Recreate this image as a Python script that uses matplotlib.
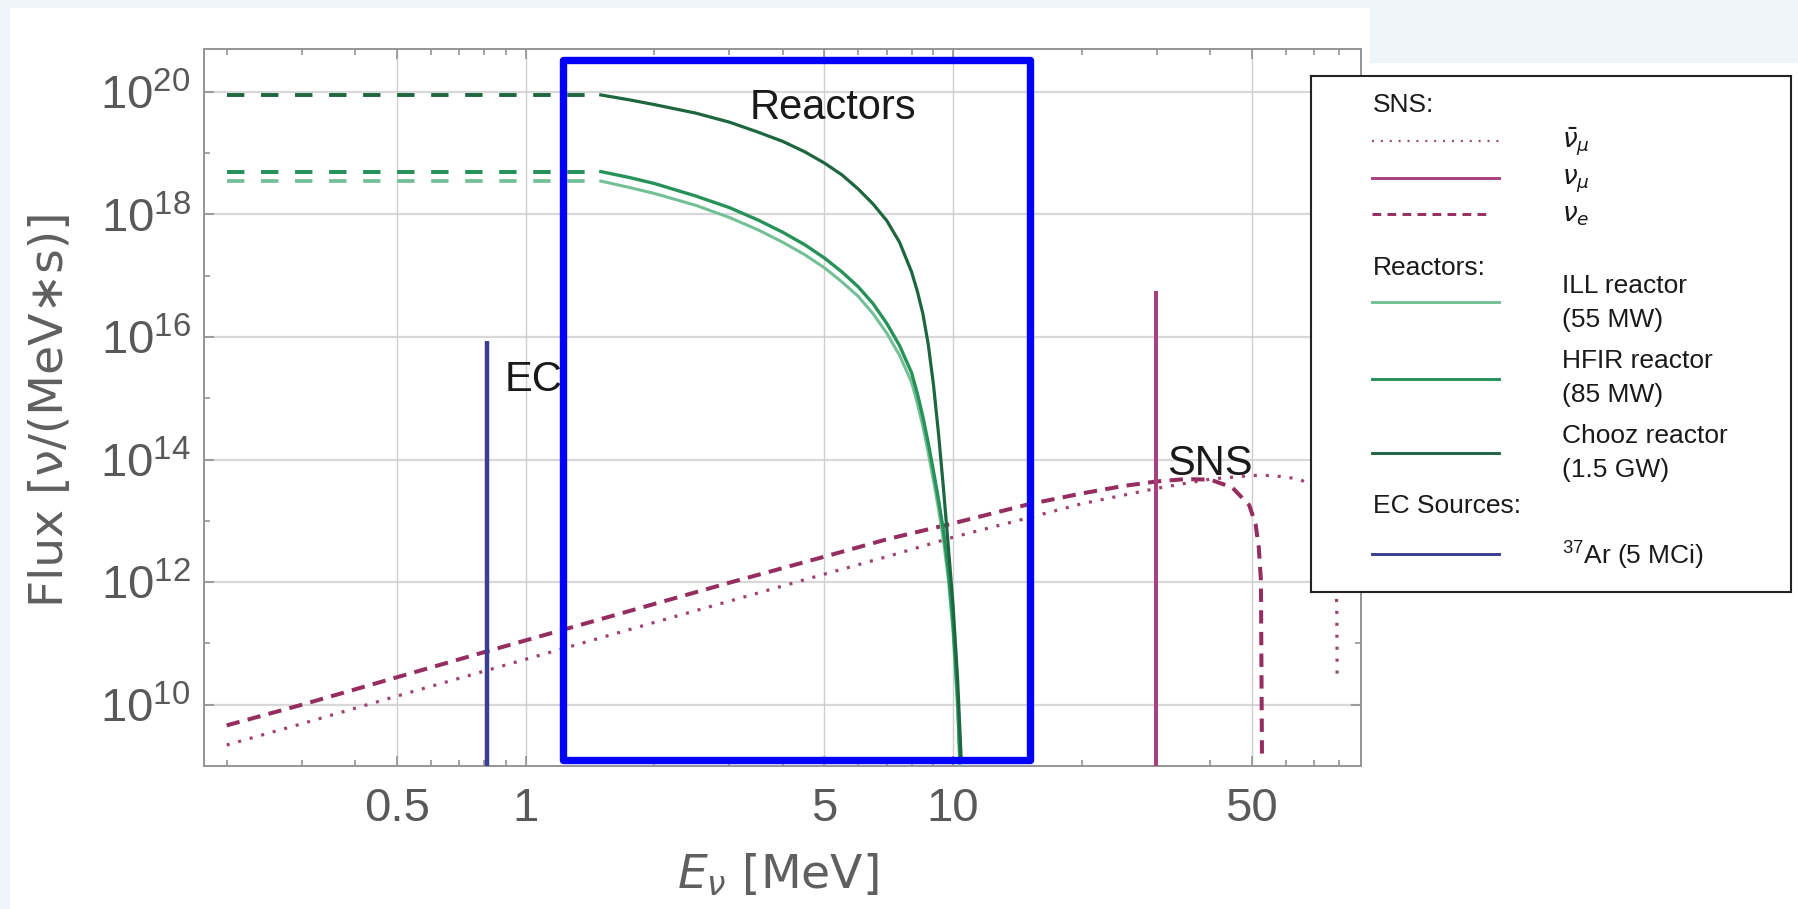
import matplotlib
matplotlib.use("Agg")
import matplotlib.pyplot as plt
from matplotlib.patches import Rectangle

plt.rcParams['lines.scale_dashes'] = False
plt.rcParams['mathtext.fontset'] = 'dejavusans'
plt.rcParams['font.family'] = ['Liberation Sans', 'DejaVu Sans']

# ---------------- data ----------------
# SNS (pion decay at rest), energy in MeV, flux in nu/(MeV*s)
nue_energy = [0.2, 0.3, 0.5, 0.8, 1.0, 2.0, 3.0, 5.0, 7.0, 10.0, 15.0, 20.0,
              25.0, 30.0, 35.0, 40.0, 45.0, 49.3, 51.0, 51.9, 52.5, 52.8]
nue_flux = [4.6e9, 1.0e10, 2.8e10, 7.2e10, 1.12e11, 4.4e11, 9.8e11, 2.6e12,
            5.0e12, 9.1e12, 1.86e13, 2.8e13, 3.7e13, 4.4e13, 4.8e13, 4.7e13,
            3.5e13, 1.8e13, 8.9e12, 3.7e12, 1.07e12, 1.4e9]

numubar_energy = [0.2, 0.3, 0.5, 1.0, 2.0, 3.0, 5.0, 7.0, 10.0, 15.0, 20.0,
                  30.0, 40.0, 50.0, 55.0, 60.0, 65.0, 70.0, 75.0, 78.0, 79.0, 79.15]
numubar_flux = [2.2e9, 4.9e9, 1.38e10, 5.5e10, 2.2e11, 4.9e11, 1.35e12, 2.6e12,
                5.4e12, 1.12e13, 1.9e13, 3.4e13, 4.8e13, 5.5e13, 5.5e13, 5.2e13,
                4.7e13, 3.5e13, 1.8e13, 4.0e12, 4.0e11, 2.5e10]

numu_energy = 29.8
numu_peak = 5.7e16

# Reactor antineutrino spectra (solid above 1.5 MeV, flat extension below)
reactor_energy = [1.5, 1.75, 2.0, 2.5, 3.0, 3.5, 4.0, 4.5, 5.0, 5.5, 6.0, 6.5,
                  7.0, 7.5, 8.0, 8.25, 8.5, 8.75, 9.0, 9.25, 9.5, 9.75, 10.0,
                  10.25, 10.38]
ill_flux = [3.5e18, 2.75e18, 2.2e18, 1.41e18, 8.9e17, 5.6e17, 3.5e17, 2.2e17,
            1.35e17, 7.9e16, 4.6e16, 2.4e16, 1.15e16, 5.0e15, 1.82e15, 8.3e14,
            3.5e14, 1.29e14, 4.5e13, 1.55e13, 4.7e12, 1.1e12, 1.55e11, 8.7e9, 8.7e8]
hfir_flux = [5.0e18, 4.0e18, 3.2e18, 2.0e18, 1.29e18, 8.1e17, 5.1e17, 3.2e17,
             1.95e17, 1.15e17, 6.6e16, 3.5e16, 1.66e16, 7.2e15, 2.6e15, 1.2e15,
             5.0e14, 1.86e14, 6.5e13, 2.2e13, 6.8e12, 1.58e12, 2.2e11, 1.26e10, 1.26e9]

chooz_energy = [1.5, 1.75, 2.0, 2.5, 3.0, 3.5, 4.0, 4.5, 5.0, 5.5, 6.0, 6.5,
                7.0, 7.5, 8.0, 8.25, 8.5, 8.75, 9.0, 9.25, 9.5, 9.75, 10.0,
                10.25, 10.45]
chooz_flux = [8.9e19, 7.4e19, 6.2e19, 4.5e19, 3.2e19, 2.2e19, 1.55e19, 1.05e19,
              6.9e18, 4.4e18, 2.6e18, 1.48e18, 7.9e17, 3.5e17, 1.15e17, 5.6e16,
              2.4e16, 7.6e15, 1.66e15, 2.6e14, 3.3e13, 3.8e12, 4.2e11, 2.6e10, 1.26e9]

reactor_flat_energy = [0.2, 1.5]

# 37Ar electron-capture line
ar37_energy = 0.811
ar37_peak = 8.5e15

# axes ranges and ticks
x_limits = (0.177, 90.0)
y_limits = (1e9, 5e20)
x_major = [0.5, 1, 5, 10, 50]
x_major_labels = ['0.5', '1', '5', '10', '50']
x_minor = [0.2, 0.3, 0.4, 0.6, 0.7, 0.8, 0.9, 2, 3, 4, 6, 7, 8, 9,
           20, 30, 40, 60, 70, 80]
y_major_exp = [10, 12, 14, 16, 18, 20]
y_minor_exp = [11, 13, 15, 17, 19]

# highlighted reactor window
box_energy = (1.226, 15.17)
box_flux = (1.26e9, 3.29e20)

# ---------------- colours ----------------
C_CHOOZ = '#1d6640'
C_HFIR = '#26925a'
C_ILL = '#74c096'
C_NUE = '#952d5e'
C_NUMUBAR = '#a0406f'
C_NUMU = '#a8407e'
C_AR = '#3b3d8f'
C_BG = '#edf5f8'

W, H = 1798, 909
fig = plt.figure(figsize=(W / 100, H / 100), dpi=100)
fig.patch.set_facecolor('white')

# slide background strips around the pasted figure
for (x0, y0, x1, y1) in [(0, 0, W, 8), (0, 0, 10, H), (1370, 0, W, 63)]:
    fig.add_artist(Rectangle((x0 / W, 1 - y1 / H), (x1 - x0) / W, (y1 - y0) / H,
                             transform=fig.transFigure, facecolor=C_BG,
                             edgecolor='none', zorder=-5))

ax = fig.add_axes([204 / W, 1 - 766 / H, 1157 / W, 717 / H])
ax.set_xscale('log')
ax.set_yscale('log')
ax.set_xlim(*x_limits)
ax.set_ylim(*y_limits)

# grid
for e in y_major_exp:
    ax.axhline(10.0 ** e, color='#d8d8d8', lw=1.6, zorder=0.5)
for xv in x_major:
    ax.axvline(xv, color='#cfcfcf', lw=1.0, zorder=0.5)

# SNS
ax.plot(numubar_energy, numubar_flux, color=C_NUMUBAR, lw=2.3,
        linestyle=(0, (2.2, 6.4)), zorder=3)
ax.plot(nue_energy, nue_flux, color=C_NUE, lw=2.9,
        linestyle=(0, (9.6, 6.0)), zorder=3)
ax.plot([numu_energy, numu_energy], [y_limits[0], numu_peak], color=C_NUMU,
        lw=2.9, solid_capstyle='butt', zorder=3)

# reactors
react_dash = (0, (12.5, 12.0))
for flux, energy, col, lw in [(ill_flux, reactor_energy, C_ILL, 2.2),
                              (hfir_flux, reactor_energy, C_HFIR, 2.4),
                              (chooz_flux, chooz_energy, C_CHOOZ, 2.3)]:
    ax.plot(reactor_flat_energy, [flux[0], flux[0]], color=col, lw=lw + 0.5,
            linestyle=react_dash, zorder=3)
    ax.plot(energy, flux, color=col, lw=lw, zorder=3, solid_joinstyle='round')

# EC line
ax.plot([ar37_energy, ar37_energy], [y_limits[0], ar37_peak], color=C_AR,
        lw=3.2, solid_capstyle='butt', zorder=3)

# labels on the plot
ax.text(3.35, 3.6e19, 'Reactors', fontsize=30, color='#1a1a1a', va='baseline', zorder=4)
ax.text(0.892, 1.29e15, 'EC', fontsize=30, color='#1a1a1a', va='baseline', zorder=4)
ax.text(31.7, 5.5e13, 'SNS', fontsize=30, color='#1a1a1a', va='baseline', zorder=4)

# highlight box
ax.add_patch(Rectangle((box_energy[0], box_flux[0]), box_energy[1] - box_energy[0],
                       box_flux[1] - box_flux[0], fill=False, edgecolor='#0000ff',
                       lw=5.3, joinstyle='round', zorder=10, clip_on=False))

# ticks
ax.set_xticks(x_major, labels=x_major_labels)
ax.set_xticks(x_minor, minor=True)
ax.set_xticklabels([], minor=True)
ax.set_yticks([10.0 ** e for e in y_major_exp],
              labels=[r'$\mathregular{10^{%d}}$' % e for e in y_major_exp])
ax.set_yticks([10.0 ** e for e in y_minor_exp], minor=True)
ax.set_yticklabels([], minor=True)
ax.tick_params(which='both', direction='in', top=True, right=True,
               color='#8a8a8a', width=1.1)
ax.tick_params(which='major', length=7.2)
ax.tick_params(which='minor', length=4.3)
ax.tick_params(axis='x', which='major', pad=15, labelsize=34, labelcolor='#595959')
ax.tick_params(axis='y', which='major', pad=9.5, labelsize=34, labelcolor='#595959')
for lab in ax.get_xticklabels() + ax.get_yticklabels():
    lab.set_family('Liberation Sans')
for sp in ax.spines.values():
    sp.set_color('#959595')
    sp.set_linewidth(1.4)

ax.set_xlabel(r'$E_\nu$ [MeV]', fontsize=34, color='#5f5f5f',
              family='DejaVu Sans', va='baseline')
ax.xaxis.set_label_coords(0.496, -(888 - 766) / 717)
ax.set_ylabel('Flux [ν/(MeV∗s)]', fontsize=34, color='#5f5f5f',
              family='DejaVu Sans', va='center')
ax.yaxis.set_label_coords(-0.1331, 0.497)

# ---------------- legend panel ----------------
L0, L1, T0, T1 = 1311, 1791, 76, 592
lax = fig.add_axes([L0 / W, 1 - T1 / H, (L1 - L0) / W, (T1 - T0) / H])
lax.set_zorder(5)
lax.set_xlim(L0, L1)
lax.set_ylim(T1, T0)
lax.set_xticks([])
lax.set_yticks([])
for sp in lax.spines.values():
    sp.set_color('#222222')
    sp.set_linewidth(1.5)

xs = [1372, 1499]
xh = 1373
xt = 1562
fs = 19
tc = '#1a1a1a'

lax.text(xh, 112.5, 'SNS:', fontsize=fs, color=tc, va='baseline')
lax.plot(xs, [140.7, 140.7], color=C_NUMUBAR, lw=1.6, linestyle=(0, (1.4, 5.0)))
lax.text(xt, 147.7, r'$\bar{\nu}_\mu$', fontsize=fs, color=tc, va='baseline')
lax.plot(xs, [177.5, 177.5], color=C_NUMU, lw=2.1)
lax.text(xt, 184.6, r'$\nu_\mu$', fontsize=fs, color=tc, va='baseline')
lax.plot([xs[0], xs[1] - 8], [214.4, 214.4], color=C_NUE, lw=2.1,
         linestyle=(0, (6.3, 4.5)))
lax.text(xt, 221.4, r'$\nu_e$', fontsize=fs, color=tc, va='baseline')

lax.text(xh, 274.7, 'Reactors:', fontsize=fs, color=tc, va='baseline')
lax.plot(xs, [302, 302], color=C_ILL, lw=2.1)
lax.text(xt, 293.3, 'ILL reactor', fontsize=fs, color=tc, va='baseline')
lax.text(xt, 327, '(55 MW)', fontsize=fs, color=tc, va='baseline')
lax.plot(xs, [378.6, 378.6], color=C_HFIR, lw=2.1)
lax.text(xt, 368, 'HFIR reactor', fontsize=fs, color=tc, va='baseline')
lax.text(xt, 402, '(85 MW)', fontsize=fs, color=tc, va='baseline')
lax.plot(xs, [453, 453], color=C_CHOOZ, lw=2.1)
lax.text(xt, 443, 'Chooz reactor', fontsize=fs, color=tc, va='baseline')
lax.text(xt, 477, '(1.5 GW)', fontsize=fs, color=tc, va='baseline')

lax.text(xh, 512.6, 'EC Sources:', fontsize=fs, color=tc, va='baseline')
lax.plot(xs, [554, 554], color=C_AR, lw=2.1)
lax.text(xt, 565, r'$\mathregular{^{37}}$Ar (5 MCi)', fontsize=fs, color=tc,
         va='baseline')

fig.savefig('out.png', dpi=100, facecolor=fig.get_facecolor())
